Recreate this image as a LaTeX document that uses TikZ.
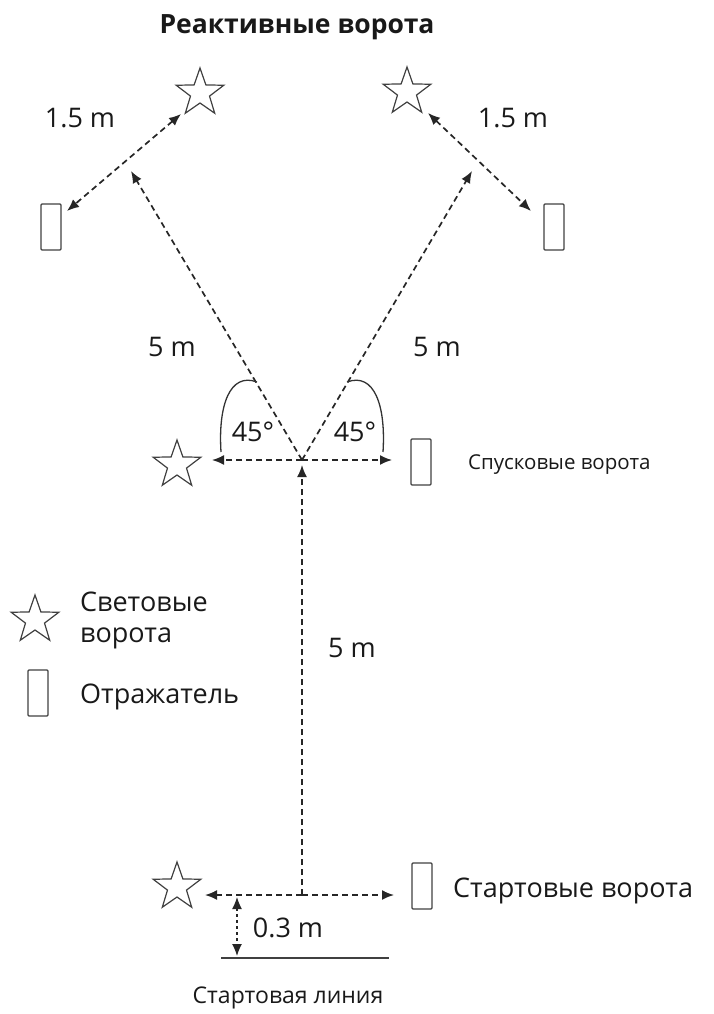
\documentclass[tikz,border=0pt]{standalone}
\usepackage{fontspec}
\setmainfont{Open Sans}
\usetikzlibrary{shapes.geometric,arrows.meta}
\begin{document}
\begin{tikzpicture}[x=1pt,y=-1pt,
  gate/.style={star, star points=5, star point ratio=2.5, draw=black!75, line width=1.2pt, minimum size=50pt, inner sep=0pt},
  refl/.style={rectangle, draw=black!75, line width=1.2pt, minimum width=20pt, minimum height=46pt, inner sep=0pt, rounded corners=1pt},
  dist/.style={draw=black!85, line width=1.7pt, dash pattern=on 6pt off 4pt},
  tip/.style={-{Latex[length=12pt,width=10pt]}},
  both/.style={{Latex[length=12pt,width=10pt]}-{Latex[length=12pt,width=10pt]}},
  lbl/.style={font=\fontsize{27}{36}\selectfont, text=black!90, inner sep=0pt},
  arcline/.style={draw=black!80, line width=1.3pt},
]
\useasboundingbox (0,0) rectangle (713,1014);

% title
\node[lbl, font=\bfseries\fontsize{26.5}{30}\selectfont] (title) at (297,27) {Реактивные ворота};

% jet gates
\node[gate] (starTL) at (200,93) {};
\node[gate] (starTR) at (407,92) {};
\node[refl] (reflTL) at (51,227) {};
\node[refl] (reflTR) at (554,227) {};
\node[lbl] (dTL) at (80,118) {1.5 m};
\node[lbl] (dTR) at (513,118) {1.5 m};

% release gates
\node[gate] (starM) at (177,465) {};
\node[refl] (reflM) at (421,462) {};
\node[lbl, anchor=west, font=\fontsize{20.5}{24}\selectfont] (relname) at (468,465) {Спусковые ворота};

% start gates
\node[gate] (starS) at (177,887) {};
\node[refl] (reflS) at (422,886) {};
\node[lbl, anchor=west] (startname) at (453,891) {Стартовые ворота};

% legend
\node[gate] (legStar) at (35,620) {};
\node[refl] (legRefl) at (38,693) {};
\node[lbl, anchor=west] (legA) at (80,602) {Световые};
\node[lbl, anchor=west] (legB) at (80,638) {ворота};
\node[lbl, anchor=west] (legC) at (80,697) {Отражатель};

% reference points of the measured course
\coordinate (hub) at (302,460);
\coordinate (base) at (302,895);
\coordinate (diagL) at (131,171);
\coordinate (diagR) at (472,171);
\coordinate (hL) at (212,460);
\coordinate (hR) at (392,460);
\coordinate (upTip) at (302,465);
\coordinate (bL) at (205,895);
\coordinate (bR) at (394,895);
\coordinate (jL1) at (181,114);
\coordinate (jL2) at (67,211);
\coordinate (jR1) at (428,113);
\coordinate (jR2) at (531,211);
\coordinate (offTop) at (237,897);
\coordinate (offBot) at (237,956);
\coordinate (lineL) at (221,958);
\coordinate (lineR) at (389,958);

% distances
\draw[dist, both] (jL1) -- (jL2);
\draw[dist, both] (jR1) -- (jR2);
\draw[dist, tip] (hub) -- (diagL);
\draw[dist, tip] (hub) -- (diagR);
\draw[dist, tip] (hub) -- (hL);
\draw[dist, tip] (hub) -- (hR);
\draw[dist, tip] (base) -- (upTip);
\draw[dist, tip] (base) -- (bL);
\draw[dist, tip] (base) -- (bR);
\draw[dist, both, dash pattern=on 3pt off 3pt, line width=1.3pt] (offTop) -- (offBot);

\node[lbl] (fiveL) at (172,347) {5 m};
\node[lbl] (fiveR) at (437,347) {5 m};
\node[lbl] (fiveV) at (352,648) {5 m};
\node[lbl] (off) at (288,928) {0.3 m};

% 45 degree angles
\draw[arcline] (257,382) .. controls (230,372) and (218,405) .. (221,452);
\draw[arcline] (347,382) .. controls (374,372) and (386,405) .. (383,452);
\node[lbl] (angL) at (253,432) {45°};
\node[lbl] (angR) at (355,432) {45°};

% start line
\draw[draw=black!75, line width=2pt] (lineL) -- (lineR);
\node[lbl, font=\fontsize{23}{28}\selectfont] (linename) at (288,998) {Стартовая линия};
\end{tikzpicture}
\end{document}
